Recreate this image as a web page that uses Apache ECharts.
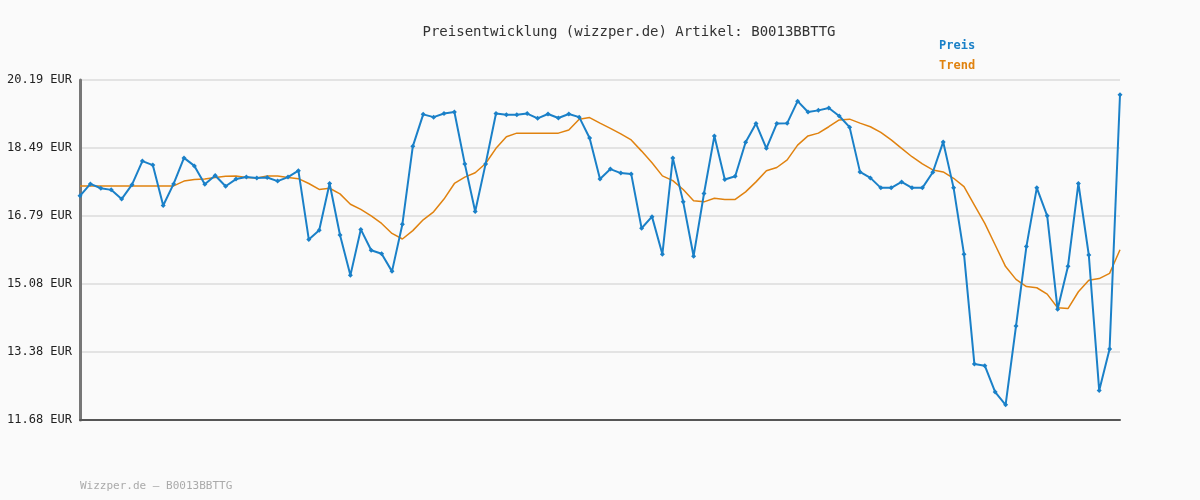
<!DOCTYPE html>
<html><head><meta charset="utf-8">
<script src="https://cdn.jsdelivr.net/npm/echarts@6/dist/echarts.min.js"></script>
<style>html,body{margin:0;background:#fafafa}#c{width:1200px;height:500px}</style>
</head><body><div id="c"></div>
<script>
const preis=[17.29,17.59,17.48,17.44,17.21,17.57,18.16,18.06,17.05,17.59,18.24,18.04,17.58,17.80,17.53,17.71,17.76,17.74,17.75,17.66,17.76,17.92,16.20,16.43,17.60,16.31,15.30,16.45,15.93,15.84,15.40,16.58,18.53,19.33,19.26,19.35,19.39,18.09,16.90,18.09,19.35,19.32,19.32,19.35,19.23,19.34,19.24,19.34,19.26,18.74,17.71,17.96,17.86,17.84,16.48,16.77,15.83,18.24,17.14,15.78,17.35,18.79,17.70,17.78,18.63,19.10,18.48,19.10,19.11,19.66,19.39,19.43,19.49,19.29,19.01,17.89,17.74,17.49,17.49,17.64,17.49,17.49,17.88,18.64,17.49,15.83,13.08,13.04,12.38,12.06,14.03,16.02,17.49,16.79,14.45,15.53,17.60,15.81,12.42,13.46,19.82];
const trend=[17.54,17.54,17.54,17.54,17.54,17.54,17.54,17.54,17.54,17.54,17.66,17.70,17.71,17.75,17.78,17.79,17.75,17.74,17.79,17.79,17.75,17.72,17.60,17.45,17.48,17.34,17.08,16.95,16.79,16.60,16.35,16.21,16.42,16.69,16.89,17.21,17.60,17.76,17.87,18.10,18.48,18.77,18.86,18.86,18.86,18.86,18.86,18.94,19.21,19.25,19.11,18.98,18.84,18.69,18.41,18.12,17.79,17.67,17.45,17.17,17.14,17.23,17.20,17.20,17.39,17.64,17.92,18.00,18.19,18.56,18.79,18.86,19.02,19.19,19.21,19.11,19.02,18.88,18.69,18.48,18.27,18.09,17.94,17.89,17.73,17.52,17.06,16.60,16.06,15.52,15.20,15.02,14.99,14.83,14.49,14.47,14.89,15.18,15.22,15.35,15.94];
const categories=preis.map((_,i)=>String(i+1));
const yMin=11.68, yMax=20.19, yStep=1.702;
const mono='"DejaVu Sans Mono", monospace';
const chart=echarts.init(document.getElementById('c'));
chart.setOption({
  backgroundColor:'#fafafa',
  animation:false,
  title:{text:'Preisentwicklung (wizzper.de) Artikel: B0013BBTTG',left:624,textAlign:'center',top:20,textStyle:{fontFamily:mono,fontSize:14,fontWeight:'normal',color:'#333'}},
  graphic:[
    {type:'text',left:80,top:481,style:{text:'Wizzper.de – B0013BBTTG',font:'11px '+mono,fill:'#aaa'}},
    {type:'text',left:939,top:40,style:{text:'Preis',font:'bold 12px '+mono,fill:'#1a80c8'}},
    {type:'text',left:939,top:60,style:{text:'Trend',font:'bold 12px '+mono,fill:'#e0820f'}}
  ],
  grid:{left:80,right:80,top:80,bottom:80},
  xAxis:{type:'category',data:categories,boundaryGap:false,axisTick:{show:false},axisLabel:{show:false},axisLine:{lineStyle:{color:'#555',width:2}}},
  yAxis:{type:'value',min:yMin,max:yMax,interval:yStep,
    axisLine:{show:true,lineStyle:{color:'#777',width:3}},axisTick:{show:false},
    splitLine:{lineStyle:{color:'#e3e3e3',width:2}},
    axisLabel:{formatter:v=>v.toFixed(2)+' EUR',fontFamily:mono,fontSize:12,color:'#222',margin:8}},
  series:[
    {name:'Trend',type:'line',data:trend,symbol:'none',lineStyle:{color:'#e0820f',width:1.5},z:2},
    {name:'Preis',type:'line',data:preis,symbol:'diamond',symbolSize:5,itemStyle:{color:'#1a80c8'},lineStyle:{color:'#1a80c8',width:2},z:3}
  ]
});
</script></body></html>
